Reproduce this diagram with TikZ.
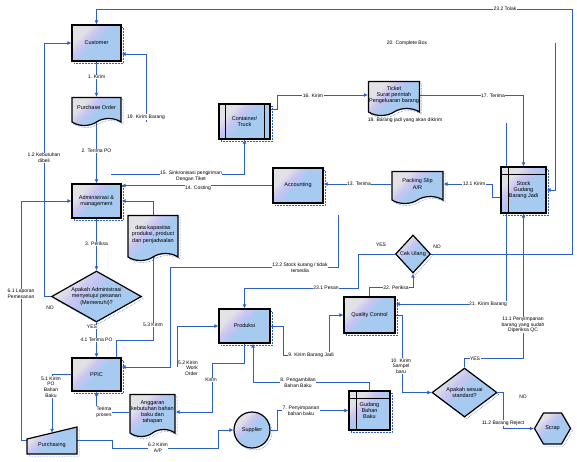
\documentclass[tikz,border=0pt]{standalone}
\usepackage{fontspec}
\setmainfont{Liberation Sans}
\usetikzlibrary{arrows.meta,shapes.geometric,shapes.symbols,backgrounds}

\definecolor{flowblue}{RGB}{45,95,200}
\definecolor{boxblue}{RGB}{166,202,240}
\definecolor{boxgrey}{RGB}{226,226,230}
\definecolor{boxlilac}{RGB}{200,196,242}
\pgfdeclarehorizontalshading{boxshade}{100bp}{color(0bp)=(boxgrey); color(30bp)=(boxgrey); color(40bp)=(boxlilac); color(50bp)=(boxblue); color(100bp)=(boxblue)}

\tikzset{
  flowshape/.style={draw=black, line width=1.2pt, shading=boxshade, shading angle=-45,
    font=\fontsize{5.5}{6.2}\selectfont, align=center, inner sep=0.5pt,
    preaction={draw=flowblue, densely dotted, line width=0.5pt, transform canvas={xshift=2pt,yshift=-2pt}}},
  proc/.style={flowshape, rectangle},
  docu/.style={flowshape, tape, tape bend top=none, tape bend height=7pt},
  store/.style={flowshape, rectangle, path picture={
    \draw[line width=0.8pt] ([xshift=7pt]path picture bounding box.north west) -- ([xshift=7pt]path picture bounding box.south west);
    \draw[line width=0.8pt] ([yshift=-7pt]path picture bounding box.north west) -- ([yshift=-7pt]path picture bounding box.north east);}},
  predef/.style={flowshape, rectangle, path picture={
    \draw[line width=0.9pt] ([xshift=6pt]path picture bounding box.north west) -- ([xshift=6pt]path picture bounding box.south west);
    \draw[line width=0.9pt] ([xshift=-6pt]path picture bounding box.north east) -- ([xshift=-6pt]path picture bounding box.south east);}},
  decide/.style={flowshape, diamond, aspect=1.7, inner sep=0pt},
  flow/.style={draw=flowblue, line width=0.8pt},
  arr/.style={flow, -{Latex[length=4pt,width=4pt]}},
  lbl/.style={font=\fontsize{5}{5.6}\selectfont, fill=white, inner sep=0.5pt, align=center},
  note/.style={font=\fontsize{5}{5.6}\selectfont, inner sep=0.5pt, align=center},
}

\begin{document}
\begin{tikzpicture}[x=1pt,y=-1pt]
\useasboundingbox (0,0) rectangle (577,461);

% left column
\node[proc, minimum width=49pt, minimum height=36pt] (customer) at (96.5,43) {Customer};
\node[docu, minimum width=49pt, minimum height=28pt] (porder) at (96.5,108) {Purchase Order};
\node[proc, minimum width=49pt, minimum height=34pt] (admin) at (96.5,201) {Administrasi \&\\management};
\node[docu, minimum width=50pt, minimum height=45pt] (datadoc) at (153,234.5) {data kapasitas\\produksi, product\\dan penjadwalan};
\node[decide, minimum width=90pt, minimum height=51pt] (dAdmin) at (96.5,296.5) {Apakah Administrasi\\menyetujui pesanan\\(Memenuhi)?};
\node[proc, minimum width=49pt, minimum height=33pt] (ppic) at (96.5,374.5) {PPIC};
\node[docu, minimum width=45pt, minimum height=42pt] (budget) at (152.5,412) {Anggaran\\kebutuhan bahan\\baku dan\\tahapan};
\path[flowshape] (27,439) -- (77,427) -- (77,454) -- (27,454) -- cycle;
\node[inner sep=0pt, minimum width=50pt, minimum height=27pt] (purch) at (52,440.5) {};
\node[font=\fontsize{5.5}{6.2}\selectfont] (purchtxt) at (52,445) {Purchasing};

% middle
\node[predef, minimum width=51pt, minimum height=35pt] (truck) at (244.5,121.5) {Container/\\Truck};
\node[proc, minimum width=50pt, minimum height=35pt] (acct) at (298,185.5) {Accounting};
\node[proc, minimum width=51pt, minimum height=34pt] (produksi) at (244.5,326) {Produksi};
\node[flowshape, circle, minimum size=36pt, inner sep=0pt] (supplier) at (252,430) {Supplier};
\node[store, minimum width=41pt, minimum height=39pt] (gudang) at (369.5,410.5) {Gudang\\Bahan\\Baku};
\node[proc, minimum width=51pt, minimum height=36pt] (qc) at (369.5,315) {Quality Control};
\node[docu, minimum width=50pt, minimum height=34pt] (ticket) at (394,95) {Ticket\\Surat perintah\\Pengeluaran barang};
\node[docu, minimum width=51pt, minimum height=32pt] (packing) at (417.5,184) {Packing Slip\\A/R};

% right
\node[decide, minimum width=35pt, minimum height=38pt] (dCek) at (413,254) {Cek Ulang};
\node[store, minimum width=45pt, minimum height=46pt] (stock) at (523.5,190) {Stock\\Gudang\\Barang Jadi};
\node[decide, minimum width=65pt, minimum height=49pt, aspect=1.3] (dStd) at (464.5,392.5) {Apakah sesuai\\standard?};
\node[flowshape, regular polygon, regular polygon sides=6, minimum size=36pt, inner sep=0pt] (scrap) at (552.5,428.5) {Scrap};

% loose ends
\coordinate (c19) at (146,122);
\coordinate (c15) at (111,174);
\coordinate (c20) at (555,43);
\coordinate (c21) at (506,123);
\coordinate (c122) at (338,215);
\coordinate (c52) at (177,367);

\begin{scope}[on background layer]
\draw[arr] (dCek.east) -| (572,9) -| (customer.north);
\draw[arr] (customer) -- (porder);
\draw[arr] (porder) -- (admin);
\draw[arr] (admin) -- (dAdmin);
\draw[arr] (dAdmin) -- (ppic);
\draw[arr] (dAdmin.west) -| (44,43) -- (customer.west);
\draw[arr] (c19) |- ([yshift=-11pt]customer.east);
\draw[arr] (purch.west) -| (21,201) -- (admin.west);
\draw[arr] (datadoc.north) |- (admin.east);
\draw[arr] (acct.west) -- (acct.west -| admin.east);
\draw[arr] (c15) -| (truck.south);
\draw[arr] ([yshift=12pt]truck.east) -- ++(7,0) |- (ticket.west);
\draw[arr] (ticket.east) -| (stock.north);
\draw[arr] ([yshift=-7pt]stock.west) -- ++(-8,0) |- (packing.east);
\draw[arr] (packing.west) -- (packing.west -| acct.east);
\draw[arr] (c20) |- (stock.east);
\draw[arr] (dCek.west) -| (358,288) -| (produksi.north);
\draw[arr] (qc.north) -- ++(0,-9) -| (dCek.south);
\draw[arr] (c21) |- ([yshift=11pt]qc.east);
\draw[arr] (dStd.north) -- ++(0,-9) -| (stock.south);
\draw[arr] (qc.east) -- ++(7,0) |- (dStd.west);
\draw[arr] (dStd.east) -- ++(6,0) |- (scrap.west);
\draw[arr] (produksi.east) -- ++(13,0) |- (329,355) |- (qc.west);
\draw[arr] (gudang.north) -- ++(0,-8) -| ([xshift=8.5pt]produksi.south);
\draw[arr] (produksi.south) -- ++(0,20) -| ([xshift=37pt]budget.east) -- (budget.east);
\draw[arr] (budget.west) -| (ppic.south);
\draw[arr] (purch.east) -- ++(35,0) |- (218,448) |- (supplier.west);
\draw[arr] (supplier.east) -- ++(7,0) |- (gudang.west);
\draw[arr] (ppic.west) -| ([yshift=-6pt]purch.north);
\draw[arr] ([xshift=20pt]ppic.north) -- ++(0,-17) -| (datadoc.south);
\draw[arr] (c122) |- (170,267) |- ([yshift=7.5pt]ppic.east);
\draw[arr] (c52) |- (produksi.west);
\end{scope}

% labels
\node[lbl] (l1) at (96.5,77) {1. Kirim};
\node[lbl] (l2) at (96.5,151) {2. Terima PO};
\node[lbl] (l3) at (96.5,244) {3. Periksa};
\node[lbl] (l41) at (96.5,340) {4.1 Terima PO};
\node[lbl] (yes1) at (92,327) {YES};
\node[note] (no1) at (50,308) {NO};
\node[lbl] (l12) at (44,158) {1.2 Kebutuhan\\dibeli};
\node[lbl] (l61) at (21,294) {6.1 Laporan\\Pemesanan};
\node[lbl] (l19) at (146,117) {19. Kirim Barang};
\node[lbl] (l14) at (198,188) {14. Costing};
\node[lbl] (l15) at (191,176.5) {15. Sinkronisasi pengiriman\\Dengan Tiket};
\node[lbl] (l16) at (313,96) {16. Kirim};
\node[lbl] (l17) at (493,96) {17. Terima};
\node[note] (l18) at (405,120) {18. Barang jadi yang akan dikirim};
\node[note] (l20) at (407,43) {20. Complete Box};
\node[lbl] (l232) at (505,9) {23.2 Tolak};
\node[lbl] (l13) at (359,184) {13. Terima};
\node[lbl] (l121) at (474,184) {12.1 Kirim};
\node[lbl] (l122) at (300,268) {12.2 Stock kurang / tidak\\tersedia};
\node[note] (noCek) at (437,247) {NO};
\node[note] (yesCek) at (381,245) {YES};
\node[lbl] (l231) at (326,288) {23.1 Pesan};
\node[lbl] (l22) at (396,288) {22. Periksa};
\node[lbl] (l21) at (488,304) {21. Kirim Barang};
\node[lbl] (l111) at (523,325) {11.1 Penyimpanan\\barang yang sudah\\Diperiksa QC};
\node[lbl] (yesStd) at (475,359) {YES};
\node[lbl] (l10) at (401,366) {10. Kirim\\Sampel\\baru};
\node[note] (noStd) at (523,397) {NO};
\node[lbl] (l112) at (503,423) {11.2 Barang Reject};
\node[lbl] (l9) at (311,355) {9. Kirim Barang Jadi};
\node[lbl] (l8) at (298,383) {8. Pengambilan\\Bahan Baku};
\node[lbl] (l7) at (301,411) {7. Penyimpanan\\bahan baku};
\node[lbl] (lkirim) at (211,380) {Kirim};
\node[lbl, align=right] (l52) at (188,368) {5.2 Kirim\\Work\\Order};
\node[lbl] (l53) at (153,325) {5.3 Kirim};
\node[lbl] (l51) at (51,387) {5.1 Kirim\\PO\\Bahan\\Baku};
\node[lbl] (lterima) at (104,412) {Terima\\proses};
\node[lbl] (l62) at (158,448) {6.2 Kirim\\A/P};
\end{tikzpicture}
\end{document}
